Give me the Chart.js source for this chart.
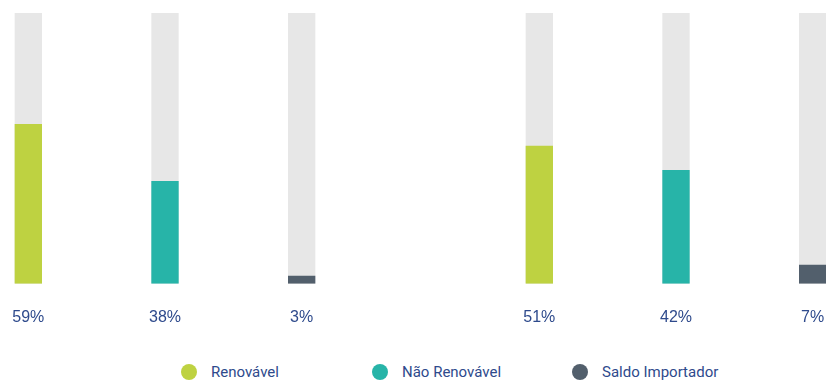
<!DOCTYPE html>
<html>
<head>
<meta charset="utf-8">
<script src="https://cdn.jsdelivr.net/npm/chart.js@4.4.1/dist/chart.umd.min.js"></script>
<style>
	html, body { margin: 0; padding: 0; background: #fff; }
	body { width: 826px; height: 385px; position: relative; overflow: hidden; font-family: Roboto, sans-serif; }
	.box { position: absolute; top: 0; width: 410px; height: 349px; }
	#boxLeft { left: -40px; }
	#boxRight { left: 471px; }
	#legend { position: absolute; left: 181px; top: 363px; display: grid; grid-template-columns: 191px 200px auto; }
	.item { display: flex; align-items: center; color: #2e4a8c; font-size: 15px; line-height: 18px; }
	.dot { width: 16px; height: 16px; border-radius: 50%; margin-right: 14px; }
</style>
</head>
<body>
<div class="box" id="boxLeft"><canvas id="mixLeft"></canvas></div>
<div class="box" id="boxRight"><canvas id="mixRight"></canvas></div>
<div id="legend"></div>
<script>
// energy mix shares, in percent
var categories = ["Renovável", "Não Renovável", "Saldo Importador"];
var colors = ["#bed241", "#27b4a8", "#525f6c"];
var valuesLeft = [59, 38, 3];
var valuesRight = [51, 42, 7];
var trackValues = [100, 100, 100];

function mixChart(canvasId, values){
	var ctx = document.getElementById(canvasId);
	return new Chart(ctx, {
		type: "bar",
		data: {
			labels: categories,
			datasets: [
				{
					data: values,
					backgroundColor: colors,
					grouped: false,
					barPercentage: 0.2,
					categoryPercentage: 1
				},
				{
					data: trackValues,
					backgroundColor: "#e7e7e7",
					grouped: false,
					barPercentage: 0.2,
					categoryPercentage: 1
				}
			]
		},
		options: {
			responsive: true,
			maintainAspectRatio: false,
			animation: false,
			layout: { padding: { top: 13, bottom: 6 } },
			plugins: { legend: { display: false }, tooltip: { enabled: false } },
			scales: {
				x: {
					grid: { display: false },
					border: { display: false },
					ticks: {
						padding: 16,
						color: "#2e4a8c",
						font: { family: "Liberation Sans", size: 16 },
						callback: function(v, i){ return values[i] + "%"; }
					}
				},
				y: { display: false, min: 0, max: 100 }
			}
		}
	});
}

mixChart("mixLeft", valuesLeft);
mixChart("mixRight", valuesRight);

// legend
var legend = document.getElementById("legend");
for (var i in categories) {
	var item = document.createElement("div");
	item.className = "item";
	item.innerHTML = '<span class="dot" style="background:' + colors[i] + '"></span>' + categories[i];
	legend.appendChild(item);
}
</script>
</body>
</html>
